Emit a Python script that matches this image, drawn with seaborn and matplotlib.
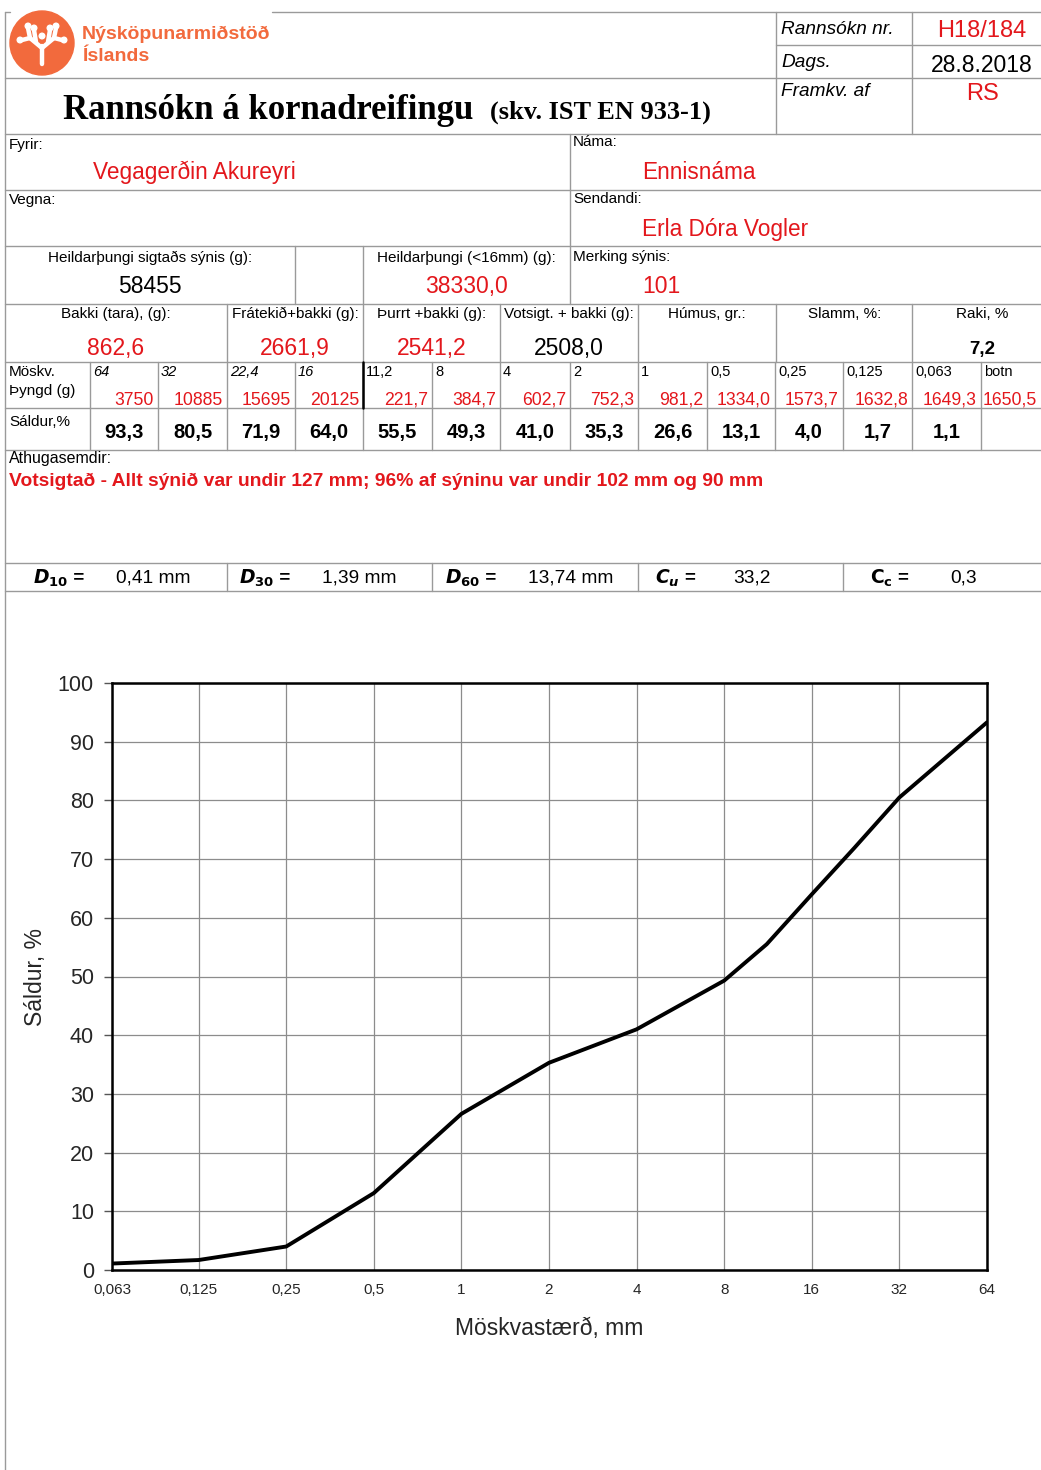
"""
Kornadreifing (IST EN 933-1) — blað með töflu og sáldurferli.
Vistar: out.png
"""

import matplotlib.pyplot as plt
import numpy as np
import seaborn as sns

# --- Gögn ---
SIEVE_MM = [64, 32, 22.4, 16, 11.2, 8, 4, 2, 1, 0.5, 0.25, 0.125, 0.063]
PASSING = [93.3, 80.5, 71.9, 64.0, 55.5, 49.3, 41.0, 35.3, 26.6, 13.1, 4.0, 1.7, 1.1]
WEIGHTS = ["3750", "10885", "15695", "20125", "221,7", "384,7", "602,7",
           "752,3", "981,2", "1334,0", "1573,7", "1632,8", "1649,3", "1650,5"]
X_TICKS = [0.063, 0.125, 0.25, 0.5, 1, 2, 4, 8, 16, 32, 64]
Y_TICKS = list(range(0, 101, 10))

D_VALUES = [("10", "0,41 mm"), ("30", "1,39 mm"), ("60", "13,74 mm")]
CU, CC = "33,2", "0,3"

RED = "#e3171c"
ORANGE = "#f26a3d"
LINE = "#9a9a9a"
SANS = ["Liberation Sans", "DejaVu Sans"]
SERIF = ["Liberation Serif", "DejaVu Serif"]
LAB = 11      # smá merki í töflu
VAL = 16.5    # gildi í töflu


def comma(v, fmt="{:g}"):
    return fmt.format(v).replace(".", ",")


sns.set_style("white")
plt.rcParams["font.family"] = SANS

fig = plt.figure(figsize=(10.41, 14.70), dpi=100)
page = fig.add_axes([0, 0, 1, 1])
page.set_xlim(0, 1041)
page.set_ylim(1470, 0)
page.axis("off")


def hline(y, x0=5, x1=1041, **kw):
    page.plot([x0, x1], [y, y], color=kw.get("color", LINE), lw=kw.get("lw", 1.0))


def vline(x, y0, y1, **kw):
    page.plot([x, x], [y0, y1], color=kw.get("color", LINE), lw=kw.get("lw", 1.0))


def txt(x, y, s, size=LAB, color="black", ha="left", **kw):
    page.text(x, y, s, fontsize=size, color=color, ha=ha, va="center", **kw)


# --- ramminn ---
vline(5, 12, 1470)
hline(12, 272, 1041)
hline(12, 5, 10)
hline(45, 776, 1041)
hline(78, 5, 1041)
for y in [134, 190, 246, 304, 362, 408, 450, 563, 591]:
    hline(y)
vline(776, 12, 134)
vline(912, 12, 134)
vline(570, 134, 304)
vline(295, 246, 304)
vline(363, 246, 304)
for x in [227, 363, 500, 638, 776, 912]:
    vline(x, 304, 362)
cells = [5, 90, 158, 227, 295, 363, 432, 500, 570, 638, 707, 775, 843, 912, 981, 1041]
for x in cells[1:-1]:
    vline(x, 362, 450)
vline(363, 362, 408, color="black", lw=1.8)
for x in [227, 432, 638, 843]:
    vline(x, 563, 591)

# --- merki ---
page.add_patch(plt.Circle((42, 43), 32, color=ORANGE))
tree = [((42, 64), (42, 46)), ((42, 48), (30, 38)), ((42, 48), (54, 38)),
        ((30, 38), (22, 40)), ((30, 38), (28, 28)), ((54, 38), (62, 40)),
        ((54, 38), (56, 28)), ((36, 42), (34, 30)), ((48, 42), (50, 30))]
for (x0, y0), (x1, y1) in tree:
    page.plot([x0, x1], [y0, y1], color="white", lw=3.2, solid_capstyle="round")
for cx, cy in [(20, 40), (64, 40), (28, 26), (56, 26), (34, 28), (50, 28), (42, 36)]:
    page.add_patch(plt.Circle((cx, cy), 2.8, color="white"))
txt(82, 34, "Nýsköpunarmiðstöð", size=14, color=ORANGE, fontweight="bold")
txt(82, 56, "Íslands", size=14, color=ORANGE, fontweight="bold")

# --- fyrirsögn ---
txt(63, 110, "Rannsókn á kornadreifingu", size=25, fontweight="bold", family=SERIF)
txt(490, 112, "(skv. IST EN 933-1)", size=19, fontweight="bold", family=SERIF)
txt(781, 29, "Rannsókn nr.", size=13.7, style="italic")
txt(982, 31, "H18/184", size=17, color=RED, ha="center")
txt(781, 62, "Dags.", size=13.7, style="italic")
txt(982, 65, "28.8.2018", size=16.5, ha="center")
txt(781, 91, "Framkv. af", size=13.7, style="italic")
txt(982, 94, "RS", size=17, color=RED, ha="center")

# --- upplýsingar ---
txt(9, 145, "Fyrir:")
txt(93, 172, "Vegagerðin Akureyri", size=16.3, color=RED)
txt(573, 142, "Náma:")
txt(642, 172, "Ennisnáma", size=16.3, color=RED)
txt(9, 200, "Vegna:")
txt(573, 199, "Sendandi:")
txt(642, 229, "Erla Dóra Vogler", size=16.3, color=RED)
txt(150, 258, "Heildarþungi sigtaðs sýnis (g):", ha="center")
txt(150, 286, "58455", size=VAL, ha="center")
txt(466, 258, "Heildarþungi (<16mm) (g):", ha="center")
txt(466, 286, "38330,0", size=VAL, color=RED, ha="center")
txt(573, 257, "Merking sýnis:")
txt(642, 286, "101", size=VAL, color=RED)

row4 = [(116, "Bakki (tara), (g):", "862,6", RED),
        (295, "Frátekið+bakki (g):", "2661,9", RED),
        (432, "Þurrt +bakki (g):", "2541,2", RED),
        (569, "Votsigt. + bakki (g):", "2508,0", "black"),
        (707, "Húmus, gr.:", "", "black"),
        (845, "Slamm, %:", "", "black")]
for cx, lab, val, col in row4:
    txt(cx, 314, lab, ha="center")
    txt(cx, 348, val, size=VAL, color=col, ha="center")
txt(982, 314, "Raki, %", ha="center")
txt(982, 349, "7,2", size=13.5, fontweight="bold", ha="center")

# --- sigtatafla ---
txt(9, 372, "Möskv.")
txt(9, 391, "Þyngd (g)")
txt(9, 422, "Sáldur,%")
size_labels = [comma(v) for v in SIEVE_MM] + ["botn"]
pass_labels = [comma(v, "{:.1f}") for v in PASSING] + [""]
for i, (lab, w, p) in enumerate(zip(size_labels, WEIGHTS, pass_labels)):
    x0, x1 = cells[i + 1], cells[i + 2]
    txt(x0 + 3, 372, lab, size=10.5, style="italic" if i < 4 else "normal")
    txt(min(x1 - 4, 1043), 400, w, size=12.7, color=RED, ha="right")
    txt((x0 + x1) / 2, 432, p, size=14.5, fontweight="bold", ha="center")

txt(9, 458, "Athugasemdir:", size=11.5)
txt(9, 481, "Votsigtað - Allt sýnið var undir 127 mm; 96% af sýninu var undir 102 mm og 90 mm",
    size=13.9, color=RED, fontweight="bold")

# --- D gildi ---
for i, (sub, val) in enumerate(D_VALUES):
    x0 = 33 + i * 206
    txt(x0, 578, f"$\\boldsymbol{{D}}_{{\\mathbf{{{sub}}}}}$ =", size=13.5,
        fontweight="bold", style="italic")
    txt(x0 + 83, 578, val, size=13.8)
txt(655, 578, "$\\boldsymbol{C}_{\\boldsymbol{u}}$ =", size=13.5, fontweight="bold")
txt(733, 578, CU, size=13.8)
txt(870, 578, "$\\mathbf{C}_{\\mathbf{c}}$ =", size=13.5, fontweight="bold")
txt(950, 578, CC, size=13.8)

# --- sáldurferill ---
ax = fig.add_axes([112 / 1041, 1 - 1270 / 1470, 875 / 1041, 587 / 1470])
sns.lineplot(x=SIEVE_MM, y=PASSING, ax=ax, color="black", lw=2.8, sort=True)
ax.set_xscale("log", base=2)
ax.set_xlim(0.063, 64)
ax.set_ylim(0, 100)
ax.set_xticks(X_TICKS)
ax.set_xticklabels([comma(v) for v in X_TICKS], fontsize=11)
ax.set_yticks(Y_TICKS)
ax.set_yticklabels([str(v) for v in Y_TICKS], fontsize=15.5)
ax.minorticks_off()
ax.grid(True, color="#8c8c8c", lw=0.9)
ax.tick_params(axis="y", length=6, width=1, color="#555555", pad=7, left=True)
ax.tick_params(axis="x", length=0, pad=9)
for sp in ax.spines.values():
    sp.set_color("black")
    sp.set_linewidth(1.8)
ax.set_xlabel("Möskvastærð, mm", fontsize=16.5, labelpad=15)
ax.set_ylabel("Sáldur, %", fontsize=16.5, labelpad=8)

fig.savefig("out.png", dpi=100)
plt.close(fig)
